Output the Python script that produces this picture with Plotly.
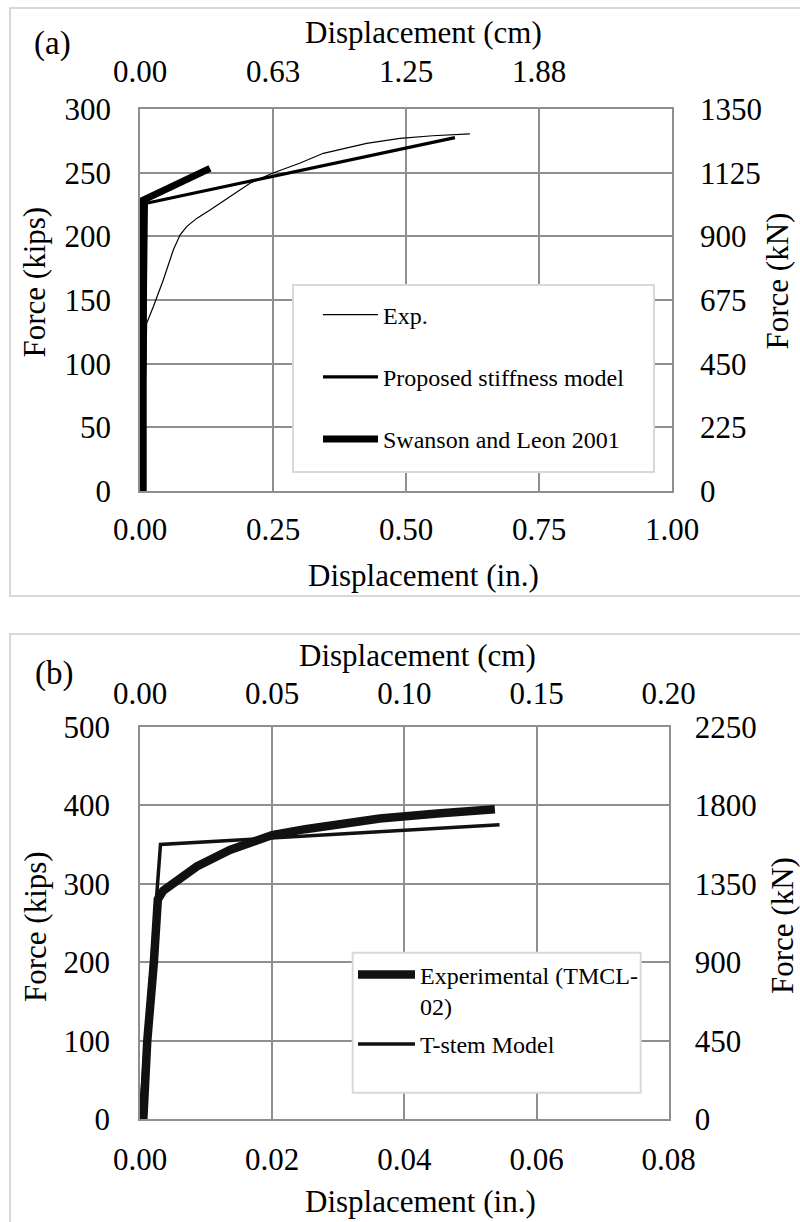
import plotly.graph_objects as go

FONT = "Liberation Serif, Times New Roman, serif"
W, H = 800, 1222

# ---------------- Panel (a) data ----------------
a_exp_x = [0.006, 0.0125, 0.025, 0.0438, 0.0626, 0.0752, 0.0877, 0.1066, 0.1316, 0.169,
           0.2068, 0.25, 0.30, 0.3446, 0.39, 0.426, 0.4887, 0.55, 0.62]
a_exp_y = [0, 131.7, 144.7, 165.7, 189.3, 201, 207.6, 214.1, 220.7, 231,
           241.7, 249.7, 257.4, 265.2, 269.5, 273, 277, 279, 280.4]
a_prop_x = [0.006, 0.012, 0.592]
a_prop_y = [0, 226, 277.5]
a_swan_x = [0.006, 0.006, 0.1316]
a_swan_y = [0, 228.5, 253.4]

a_names = ["Exp.", "Proposed stiffness model", "Swanson and Leon 2001"]
a_x_ticks = [0, 0.25, 0.5, 0.75, 1.0]
a_cm_tickvals = [0, 0.625, 1.25, 1.875]
a_cm_ticktext = ["0.00", "0.63", "1.25", "1.88"]
a_y_ticks = [0, 50, 100, 150, 200, 250, 300]
a_kn_ticks = [0, 225, 450, 675, 900, 1125, 1350]

# ---------------- Panel (b) data ----------------
b_exp_x = [0.0005, 0.0011, 0.0021, 0.0025, 0.0027, 0.0035, 0.0050, 0.0086, 0.0136, 0.0167,
           0.0200, 0.0250, 0.0300, 0.0363, 0.0450, 0.0537]
b_exp_y = [0, 100, 200, 266, 280, 291, 300.5, 322, 343, 352,
           362, 369.5, 376, 383, 389.5, 395]
b_tstem_x = [0, 0.0031, 0.0544]
b_tstem_y = [0, 350, 375]

b_names = ["Experimental (TMCL-<br>02)", "T-stem Model"]
b_x_ticks = [0, 0.02, 0.04, 0.06, 0.08]
b_cm_ticks = [0, 0.05, 0.10, 0.15, 0.20]
b_y_ticks = [0, 100, 200, 300, 400, 500]
b_kn_ticks = [0, 450, 900, 1350, 1800, 2250]


def px(x):
    return x / W


def py(y):
    return 1 - y / H


GRID = "#8f8f8f"
fig = go.Figure()

# Panel (a) traces
fig.add_trace(go.Scatter(x=a_exp_x, y=a_exp_y, mode="lines", name=a_names[0],
                         line=dict(color="black", width=1.2),
                         xaxis="x", yaxis="y", legend="legend", legendgroup="a1"))
fig.add_trace(go.Scatter(x=a_prop_x, y=a_prop_y, mode="lines", name=a_names[1],
                         line=dict(color="black", width=3.2),
                         xaxis="x", yaxis="y", legend="legend", legendgroup="a2"))
fig.add_trace(go.Scatter(x=a_swan_x, y=a_swan_y, mode="lines", name=a_names[2],
                         line=dict(color="black", width=7),
                         xaxis="x", yaxis="y", legend="legend", legendgroup="a3"))
fig.add_trace(go.Scatter(x=[None], y=[None], xaxis="x2", yaxis="y2", showlegend=False,
                         hoverinfo="skip"))

# Panel (b) traces
fig.add_trace(go.Scatter(x=b_exp_x, y=b_exp_y, mode="lines", name=b_names[0],
                         line=dict(color="#111111", width=8.5),
                         xaxis="x3", yaxis="y3", legend="legend2", legendgroup="b1"))
fig.add_trace(go.Scatter(x=b_tstem_x, y=b_tstem_y, mode="lines", name=b_names[1],
                         line=dict(color="#111111", width=3.5),
                         xaxis="x3", yaxis="y3", legend="legend2", legendgroup="b2"))
fig.add_trace(go.Scatter(x=[None], y=[None], xaxis="x4", yaxis="y4", showlegend=False,
                         hoverinfo="skip"))

tickfont = dict(family=FONT, size=31, color="black")
common = dict(showgrid=True, gridcolor=GRID, gridwidth=1.5, zeroline=False,
              showline=True, linecolor=GRID, linewidth=1.5, mirror=True,
              ticks="", tickfont=tickfont, fixedrange=True, automargin=False)
nogrid = dict(showgrid=False, zeroline=False, showline=False, ticks="",
              tickfont=tickfont, fixedrange=True, automargin=False)

dom_a_x = [px(140), px(672)]
dom_a_y = [py(491), py(109)]
dom_b_x = [px(140), px(668.7)]
dom_b_y = [py(1119.3), py(726.7)]

fig.update_layout(
    width=W, height=H,
    margin=dict(l=0, r=0, t=0, b=0, pad=0, autoexpand=False),
    paper_bgcolor="white", plot_bgcolor="white",
    font=dict(family=FONT, color="black"),
    xaxis=dict(domain=dom_a_x, anchor="y", range=[0, 1], tickvals=a_x_ticks,
               tickformat=".2f", ticklabelstandoff=10, **common),
    yaxis=dict(domain=dom_a_y, anchor="x", range=[0, 300], tickvals=a_y_ticks,
               ticklabelstandoff=21, **common),
    xaxis2=dict(overlaying="x", anchor="y", side="top", range=[0, 2.5],
                tickvals=a_cm_tickvals, ticktext=a_cm_ticktext,
                ticklabelstandoff=20, **nogrid),
    yaxis2=dict(overlaying="y", anchor="x", side="right", range=[0, 1350],
                tickvals=a_kn_ticks, ticklabelstandoff=27, **nogrid),
    xaxis3=dict(domain=dom_b_x, anchor="y3", range=[0, 0.08], tickvals=b_x_ticks,
                tickformat=".2f", ticklabelstandoff=12, **common),
    yaxis3=dict(domain=dom_b_y, anchor="x3", range=[0, 500], tickvals=b_y_ticks,
                ticklabelstandoff=22, **common),
    xaxis4=dict(overlaying="x3", anchor="y3", side="top", range=[0, 0.2],
                tickvals=b_cm_ticks, tickformat=".2f",
                ticklabelstandoff=16, **nogrid),
    yaxis4=dict(overlaying="y3", anchor="x3", side="right", range=[0, 2250],
                tickvals=b_kn_ticks, ticklabelstandoff=25, **nogrid),
    legend=dict(x=px(318), y=py(292.5), xanchor="left", yanchor="top",
                bgcolor="rgba(0,0,0,0)", borderwidth=0, tracegroupgap=28,
                itemwidth=55, font=dict(family=FONT, size=24, color="black")),
    legend2=dict(x=px(353), y=py(952.4), xanchor="left", yanchor="top",
                 bgcolor="rgba(0,0,0,0)", borderwidth=0, tracegroupgap=4,
                 itemwidth=57, valign="top",
                 font=dict(family=FONT, size=24, color="black")),
    showlegend=True,
)

# Frames around the panels and legend boxes
shapes = [
    dict(type="rect", xref="paper", yref="paper", x0=px(10), x1=1.05,
         y0=py(596), y1=py(8), line=dict(color="#d9d9d9", width=2), layer="below"),
    dict(type="rect", xref="paper", yref="paper", x0=px(10), x1=1.05,
         y0=-0.05, y1=py(634), line=dict(color="#d9d9d9", width=2), layer="below"),
    dict(type="rect", xref="paper", yref="paper",
         x0=px(293), x1=px(654), y0=py(472), y1=py(285),
         fillcolor="white", line=dict(color="#d9d9d9", width=2), layer="above"),
    dict(type="rect", xref="paper", yref="paper",
         x0=px(352.7), x1=px(640.7), y0=py(1092.7), y1=py(952.7),
         fillcolor="white", line=dict(color="#d9d9d9", width=2), layer="above"),
]
fig.update_layout(shapes=shapes)

tf = dict(family=FONT, size=31, color="black")
ann = [
    dict(text="(a)", x=px(52), y=py(43), font=dict(family=FONT, size=33, color="black")),
    dict(text="(b)", x=px(54), y=py(673), font=dict(family=FONT, size=33, color="black")),
    dict(text="Displacement (cm)", x=px(423), y=py(33), font=tf),
    dict(text="Displacement (in.)", x=px(423), y=py(575), font=tf),
    dict(text="Force (kips)", x=px(33.5), y=py(282), font=tf, textangle=-90),
    dict(text="Force (kN)", x=px(777), y=py(281.5), font=tf, textangle=-90),
    dict(text="Displacement (cm)", x=px(417), y=py(655), font=tf),
    dict(text="Displacement (in.)", x=px(420), y=py(1201), font=tf),
    dict(text="Force (kips)", x=px(35), y=py(927), font=tf, textangle=-90),
    dict(text="Force (kN)", x=px(782), y=py(926), font=tf, textangle=-90),
]
for a in ann:
    a.update(xref="paper", yref="paper", showarrow=False, xanchor="center", yanchor="middle")
fig.update_layout(annotations=ann)

fig.write_html("out.html")
